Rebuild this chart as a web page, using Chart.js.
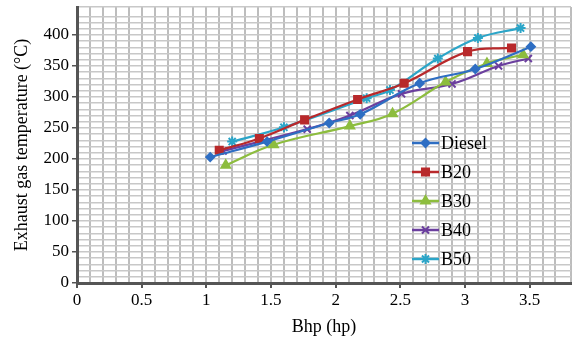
<!DOCTYPE html>
<html lang="en">
<head>
  <meta charset="UTF-8">
  <title>Exhaust gas temperature vs Bhp</title>
  <script src="https://cdn.jsdelivr.net/npm/chart.js"></script>
  <style>
    html, body {
      margin: 0;
      padding: 0;
      background: #ffffff;
    }
    .chart-container {
      width: 578px;
      height: 341px;
    }
  </style>
</head>
<body>
  <div class="chart-container">
    <canvas id="egtChart"></canvas>
  </div>

  <script>
    const seriesNames = ['Diesel', 'B20', 'B30', 'B40', 'B50'];

    const bhpDiesel = [1.03, 1.47, 1.95, 2.19, 2.65, 3.08, 3.51];
    const tempDiesel = [203, 228, 258, 272, 322, 345, 381];

    const bhpB20 = [1.10, 1.41, 1.76, 2.17, 2.53, 3.02, 3.36];
    const tempB20 = [214, 233, 263, 296, 322, 373, 379];

    const bhpB30 = [1.15, 1.52, 2.11, 2.44, 2.85, 3.17, 3.45];
    const tempB30 = [190, 223, 253, 273, 324, 354, 368];

    const bhpB40 = [1.13, 1.78, 2.11, 2.51, 2.90, 3.26, 3.49];
    const tempB40 = [213, 248, 270, 305, 321, 350, 362];

    const bhpB50 = [1.20, 1.60, 2.24, 2.42, 2.79, 3.10, 3.43];
    const tempB50 = [228, 251, 298, 311, 362, 395, 411];

    const FONT = "'Liberation Serif', 'Times New Roman', serif";

    function points(xs, ys) {
      return xs.map((x, i) => ({ x: x, y: ys[i] }));
    }

    function isMultiple(v, step) {
      const r = v / step;
      return Math.abs(r - Math.round(r)) < 1e-6;
    }

    // legend drawn inside the plot, like the original figure
    const insideLegend = {
      id: 'insideLegend',
      afterDatasetsDraw(chart) {
        const ctx = chart.ctx;
        const x0 = 412, x1 = 439, yStart = 143, gap = 29;
        chart.data.datasets.forEach((ds, i) => {
          const y = yStart + i * gap;
          ctx.save();
          ctx.strokeStyle = ds.borderColor;
          ctx.lineWidth = 2.5;
          ctx.beginPath();
          ctx.moveTo(x0, y);
          ctx.lineTo(x1, y);
          ctx.stroke();
          const opts = {
            pointStyle: ds.pointStyle,
            radius: ds.pointRadius,
            borderWidth: 2,
            rotation: 0
          };
          ctx.fillStyle = ds.pointBackgroundColor;
          ctx.strokeStyle = ds.pointBorderColor;
          ctx.lineWidth = 2;
          if (Chart.helpers && Chart.helpers.drawPoint) {
            Chart.helpers.drawPoint(ctx, opts, (x0 + x1) / 2, y);
          }
          ctx.fillStyle = '#000';
          ctx.font = "18px " + FONT;
          ctx.textBaseline = 'middle';
          ctx.textAlign = 'left';
          ctx.fillText(ds.label, x1 + 2, y + 1);
          ctx.restore();
        });
      }
    };

    function makeSet(i, xs, ys, color, style, radius) {
      return {
        label: seriesNames[i],
        data: points(xs, ys),
        borderColor: color,
        backgroundColor: color,
        pointBackgroundColor: color,
        pointBorderColor: color,
        pointStyle: style,
        pointRadius: radius,
        pointBorderWidth: 2,
        borderWidth: 2.2,
        tension: 0.4,
        fill: false
      };
    }

    const ctx = document.getElementById('egtChart').getContext('2d');
    new Chart(ctx, {
      type: 'line',
      data: {
        datasets: [
          makeSet(0, bhpDiesel, tempDiesel, '#2e6ec3', 'rectRot', 4),
          makeSet(1, bhpB20, tempB20, '#b8292b', 'rect', 5),
          makeSet(2, bhpB30, tempB30, '#8dbd3e', 'triangle', 5),
          makeSet(3, bhpB40, tempB40, '#6b3f9e', 'crossRot', 5),
          makeSet(4, bhpB50, tempB50, '#2ba5c8', 'star', 5)
        ]
      },
      options: {
        responsive: true,
        maintainAspectRatio: false,
        animation: false,
        layout: {
          padding: { top: 7, right: 3, left: 0, bottom: 0 }
        },
        plugins: {
          legend: { display: false },
          tooltip: { enabled: false }
        },
        scales: {
          x: {
            type: 'linear',
            min: 0,
            max: 3.82,
            afterFit: (s) => {
              s.height = 58;
              s.paddingLeft = 0;
              s.paddingRight = 0;
            },
            border: { color: '#555555', width: 3 },
            grid: {
              color: '#bdbdbd',
              lineWidth: 2,
              tickLength: 5,
              tickColor: (c) => isMultiple(c.tick.value, 0.5) ? '#555555' : 'rgba(0,0,0,0)'
            },
            ticks: {
              stepSize: 0.1,
              autoSkip: false,
              maxRotation: 0,
              padding: 2,
              color: '#000',
              font: { family: FONT, size: 17 },
              callback: (v) => isMultiple(v, 0.5) ? String(Math.round(v * 2) / 2) : ''
            },
            title: {
              display: true,
              text: 'Bhp (hp)',
              color: '#000',
              font: { family: FONT, size: 18 },
              padding: { top: 0, bottom: 3 }
            }
          },
          y: {
            type: 'linear',
            min: 0,
            max: 445,
            afterFit: (s) => {
              s.width = 77;
              s.paddingTop = 0;
              s.paddingBottom = 0;
            },
            border: { color: '#555555', width: 3 },
            grid: {
              color: '#c8c8c8',
              lineWidth: 1.5,
              tickLength: 5,
              tickColor: (c) => isMultiple(c.tick.value, 50) ? '#555555' : 'rgba(0,0,0,0)'
            },
            ticks: {
              stepSize: 10,
              autoSkip: false,
              padding: 3,
              color: '#000',
              font: { family: FONT, size: 17 },
              callback: (v) => isMultiple(v, 50) ? String(v) : ''
            },
            title: {
              display: true,
              text: 'Exhaust gas temperature (°C)',
              color: '#000',
              font: { family: FONT, size: 18 },
              padding: { top: 11, bottom: 0 }
            }
          }
        }
      },
      plugins: [insideLegend]
    });
  </script>
</body>
</html>
